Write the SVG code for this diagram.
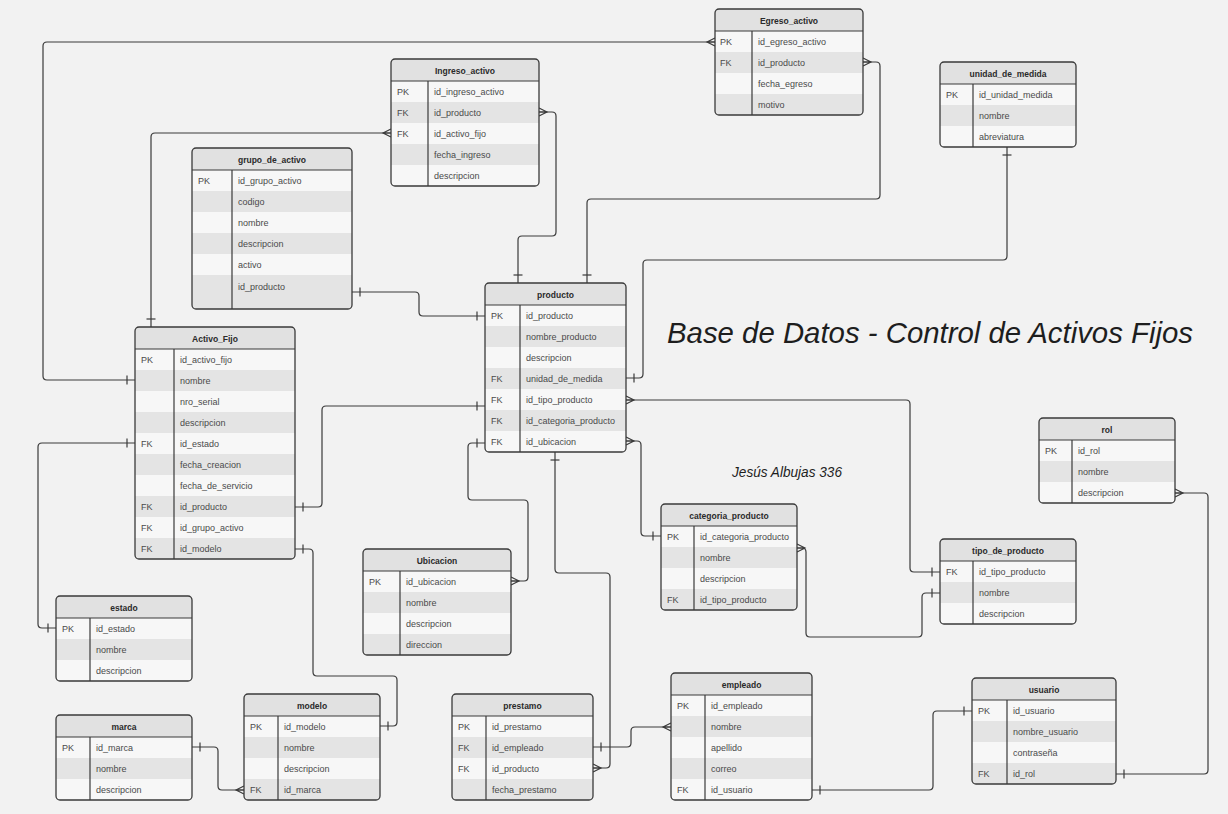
<svg xmlns="http://www.w3.org/2000/svg" width="1228" height="814" viewBox="0 0 1228 814">
<style>
.hd{fill:#e1e1e1}
.l{fill:#f7f7f7}
.g{fill:#e4e4e4}
.box{fill:none;stroke:#3a3a3a;stroke-width:1.3}
.ln{stroke:#3a3a3a;stroke-width:1.2}
.th{font-family:"Liberation Sans",Arial,sans-serif;font-size:8.5px;font-weight:bold;fill:#2a2a2a;text-anchor:middle}
.tx{font-family:"Liberation Sans",Arial,sans-serif;font-size:9px;fill:#4a4a4a}
.cn{fill:none;stroke:#3a3a3a;stroke-width:1.2}
.mk{fill:none;stroke:#3a3a3a;stroke-width:1.2}
.title{font-family:"Liberation Sans",Arial,sans-serif;font-style:italic;fill:#1e1e1e}
</style>
<defs>
<marker id="one" markerUnits="userSpaceOnUse" viewBox="-12 -8 16 16" markerWidth="16" markerHeight="16" refX="0" refY="0" orient="auto-start-reverse" overflow="visible"><path class="mk" d="M-8,-4.5V4.5"/></marker>
<marker id="many" markerUnits="userSpaceOnUse" viewBox="-12 -8 16 16" markerWidth="16" markerHeight="16" refX="0" refY="0" orient="auto-start-reverse" overflow="visible"><path class="mk" d="M0,-4L-8,0L0,4M-8,0H0"/></marker>
<clipPath id="c1"><rect x="715" y="9" width="148" height="106" rx="4"/></clipPath>
<clipPath id="c2"><rect x="391" y="59" width="148" height="127" rx="4"/></clipPath>
<clipPath id="c3"><rect x="940" y="62" width="136" height="85" rx="4"/></clipPath>
<clipPath id="c4"><rect x="192" y="148" width="160" height="161" rx="4"/></clipPath>
<clipPath id="c5"><rect x="135" y="327" width="160" height="232" rx="4"/></clipPath>
<clipPath id="c6"><rect x="485" y="283" width="141" height="169" rx="4"/></clipPath>
<clipPath id="c7"><rect x="1039" y="418" width="136" height="85" rx="4"/></clipPath>
<clipPath id="c8"><rect x="661" y="504" width="136" height="106" rx="4"/></clipPath>
<clipPath id="c9"><rect x="940" y="539" width="136" height="85" rx="4"/></clipPath>
<clipPath id="c10"><rect x="363" y="549" width="148" height="106" rx="4"/></clipPath>
<clipPath id="c11"><rect x="56" y="596" width="136" height="85" rx="4"/></clipPath>
<clipPath id="c12"><rect x="56" y="715" width="136" height="85" rx="4"/></clipPath>
<clipPath id="c13"><rect x="244" y="694" width="136" height="106" rx="4"/></clipPath>
<clipPath id="c14"><rect x="452" y="694" width="141" height="106" rx="4"/></clipPath>
<clipPath id="c15"><rect x="671" y="673" width="141" height="127" rx="4"/></clipPath>
<clipPath id="c16"><rect x="972" y="678" width="144" height="106" rx="4"/></clipPath>
</defs>
<rect x="0" y="0" width="1228" height="814" fill="#f2f2f2"/>

<g id="connectors">
<path class="cn" marker-start="url(#many)" marker-end="url(#one)" d="M715,42 H47 Q43,42 43,46 V376 Q43,380 47,380 H135"/>
<path class="cn" marker-start="url(#many)" marker-end="url(#one)" d="M863,62 H876 Q880,62 880,66 V195 Q880,199 876,199 H591 Q587,199 587,203 V283"/>
<path class="cn" marker-start="url(#many)" marker-end="url(#one)" d="M539,112 H552 Q556,112 556,116 V232 Q556,236 552,236 H522 Q518,236 518,240 V283"/>
<path class="cn" marker-start="url(#many)" marker-end="url(#one)" d="M391,133 H155 Q151,133 151,137 V327"/>
<path class="cn" marker-start="url(#one)" marker-end="url(#one)" d="M1007,147 V256 Q1007,260 1003,260 H647 Q643,260 643,264 V374 Q643,378 639,378 H626"/>
<path class="cn" marker-start="url(#one)" marker-end="url(#one)" d="M352,292 H415 Q419,292 419,296 V312 Q419,316 423,316 H485"/>
<path class="cn" marker-start="url(#one)" marker-end="url(#one)" d="M295,507 H318 Q322,507 322,503 V410 Q322,406 326,406 H485"/>
<path class="cn" marker-start="url(#one)" marker-end="url(#one)" d="M135,443 H42 Q38,443 38,447 V624 Q38,628 42,628 H56"/>
<path class="cn" marker-start="url(#one)" marker-end="url(#one)" d="M295,549 H309 Q313,549 313,553 V672 Q313,676 317,676 H393 Q397,676 397,680 V722 Q397,726 393,726 H380"/>
<path class="cn" marker-start="url(#many)" marker-end="url(#one)" d="M626,441 H637 Q641,441 641,445 V532 Q641,536 645,536 H661"/>
<path class="cn" marker-start="url(#one)" marker-end="url(#many)" d="M485,443 H472 Q468,443 468,447 V496 Q468,500 472,500 H524 Q528,500 528,504 V577 Q528,581 524,581 H511"/>
<path class="cn" marker-start="url(#many)" marker-end="url(#one)" d="M626,400 H906 Q910,400 910,404 V568 Q910,572 914,572 H940"/>
<path class="cn" marker-start="url(#many)" marker-end="url(#one)" d="M797,548 H802 Q806,548 806,552 V633 Q806,637 810,637 H918 Q922,637 922,633 V597 Q922,593 926,593 H940"/>
<path class="cn" marker-start="url(#one)" marker-end="url(#many)" d="M555,452 V569 Q555,573 559,573 H606 Q610,573 610,577 V764 Q610,768 606,768 H593"/>
<path class="cn" marker-start="url(#one)" marker-end="url(#many)" d="M593,747 H627 Q631,747 631,743 V731 Q631,727 635,727 H671"/>
<path class="cn" marker-start="url(#one)" marker-end="url(#one)" d="M812,790 H929 Q933,790 933,786 V715 Q933,711 937,711 H972"/>
<path class="cn" marker-start="url(#one)" marker-end="url(#many)" d="M1116,774 H1204 Q1208,774 1208,770 V497 Q1208,493 1204,493 H1175"/>
<path class="cn" marker-start="url(#one)" marker-end="url(#many)" d="M192,747 H214 Q218,747 218,751 V786 Q218,790 222,790 H244"/>
</g>

<g id="egreso_activo">
<g clip-path="url(#c1)"><rect class="hd" x="715" y="9" width="148" height="22"/><rect class="l" x="715" y="31" width="148" height="21"/><rect class="g" x="715" y="52" width="148" height="21"/><rect class="l" x="715" y="73" width="148" height="21"/><rect class="g" x="715" y="94" width="148" height="21"/></g>
<line class="ln" x1="715" y1="31" x2="863" y2="31"/><line class="ln" x1="752" y1="31" x2="752" y2="115"/>
<rect class="box" x="715" y="9" width="148" height="106" rx="4"/>
<text class="th" x="789" y="23.5">Egreso_activo</text>
<text class="tx" x="720" y="45">PK</text><text class="tx" x="758" y="45">id_egreso_activo</text>
<text class="tx" x="720" y="66">FK</text><text class="tx" x="758" y="66">id_producto</text>
<text class="tx" x="758" y="87">fecha_egreso</text>
<text class="tx" x="758" y="108">motivo</text>
</g>

<g id="ingreso_activo">
<g clip-path="url(#c2)"><rect class="hd" x="391" y="59" width="148" height="22"/><rect class="l" x="391" y="81" width="148" height="21"/><rect class="g" x="391" y="102" width="148" height="21"/><rect class="l" x="391" y="123" width="148" height="21"/><rect class="g" x="391" y="144" width="148" height="21"/><rect class="l" x="391" y="165" width="148" height="21"/></g>
<line class="ln" x1="391" y1="81" x2="539" y2="81"/><line class="ln" x1="428" y1="81" x2="428" y2="186"/>
<rect class="box" x="391" y="59" width="148" height="127" rx="4"/>
<text class="th" x="465" y="73.5">Ingreso_activo</text>
<text class="tx" x="397" y="95">PK</text><text class="tx" x="434" y="95">id_ingreso_activo</text>
<text class="tx" x="397" y="116">FK</text><text class="tx" x="434" y="116">id_producto</text>
<text class="tx" x="397" y="137">FK</text><text class="tx" x="434" y="137">id_activo_fijo</text>
<text class="tx" x="434" y="158">fecha_ingreso</text>
<text class="tx" x="434" y="179">descripcion</text>
</g>

<g id="unidad_de_medida">
<g clip-path="url(#c3)"><rect class="hd" x="940" y="62" width="136" height="22"/><rect class="l" x="940" y="84" width="136" height="21"/><rect class="g" x="940" y="105" width="136" height="21"/><rect class="l" x="940" y="126" width="136" height="21"/></g>
<line class="ln" x1="940" y1="84" x2="1076" y2="84"/><line class="ln" x1="973" y1="84" x2="973" y2="147"/>
<rect class="box" x="940" y="62" width="136" height="85" rx="4"/>
<text class="th" x="1008" y="76.5">unidad_de_medida</text>
<text class="tx" x="946" y="98">PK</text><text class="tx" x="979" y="98">id_unidad_medida</text>
<text class="tx" x="979" y="119">nombre</text>
<text class="tx" x="979" y="140">abreviatura</text>
</g>

<g id="grupo_de_activo">
<g clip-path="url(#c4)"><rect class="hd" x="192" y="148" width="160" height="22"/><rect class="l" x="192" y="170" width="160" height="21"/><rect class="g" x="192" y="191" width="160" height="21"/><rect class="l" x="192" y="212" width="160" height="21"/><rect class="g" x="192" y="233" width="160" height="21"/><rect class="l" x="192" y="254" width="160" height="21"/><rect class="g" x="192" y="275" width="160" height="34"/></g>
<line class="ln" x1="192" y1="170" x2="352" y2="170"/><line class="ln" x1="232" y1="170" x2="232" y2="309"/>
<rect class="box" x="192" y="148" width="160" height="161" rx="4"/>
<text class="th" x="272" y="162.5">grupo_de_activo</text>
<text class="tx" x="198" y="184">PK</text><text class="tx" x="238" y="184">id_grupo_activo</text>
<text class="tx" x="238" y="205">codigo</text>
<text class="tx" x="238" y="226">nombre</text>
<text class="tx" x="238" y="247">descripcion</text>
<text class="tx" x="238" y="268">activo</text>
<text class="tx" x="238" y="290">id_producto</text>
</g>

<g id="activo_fijo">
<g clip-path="url(#c5)"><rect class="hd" x="135" y="327" width="160" height="22"/><rect class="l" x="135" y="349" width="160" height="21"/><rect class="g" x="135" y="370" width="160" height="21"/><rect class="l" x="135" y="391" width="160" height="21"/><rect class="g" x="135" y="412" width="160" height="21"/><rect class="l" x="135" y="433" width="160" height="21"/><rect class="g" x="135" y="454" width="160" height="21"/><rect class="l" x="135" y="475" width="160" height="21"/><rect class="g" x="135" y="496" width="160" height="21"/><rect class="l" x="135" y="517" width="160" height="21"/><rect class="g" x="135" y="538" width="160" height="21"/></g>
<line class="ln" x1="135" y1="349" x2="295" y2="349"/><line class="ln" x1="174" y1="349" x2="174" y2="559"/>
<rect class="box" x="135" y="327" width="160" height="232" rx="4"/>
<text class="th" x="215" y="341.5">Activo_Fijo</text>
<text class="tx" x="141" y="363">PK</text><text class="tx" x="180" y="363">id_activo_fijo</text>
<text class="tx" x="180" y="384">nombre</text>
<text class="tx" x="180" y="405">nro_serial</text>
<text class="tx" x="180" y="426">descripcion</text>
<text class="tx" x="141" y="447">FK</text><text class="tx" x="180" y="447">id_estado</text>
<text class="tx" x="180" y="468">fecha_creacion</text>
<text class="tx" x="180" y="489">fecha_de_servicio</text>
<text class="tx" x="141" y="510">FK</text><text class="tx" x="180" y="510">id_producto</text>
<text class="tx" x="141" y="531">FK</text><text class="tx" x="180" y="531">id_grupo_activo</text>
<text class="tx" x="141" y="552">FK</text><text class="tx" x="180" y="552">id_modelo</text>
</g>

<g id="producto">
<g clip-path="url(#c6)"><rect class="hd" x="485" y="283" width="141" height="22"/><rect class="l" x="485" y="305" width="141" height="21"/><rect class="g" x="485" y="326" width="141" height="21"/><rect class="l" x="485" y="347" width="141" height="21"/><rect class="g" x="485" y="368" width="141" height="21"/><rect class="l" x="485" y="389" width="141" height="21"/><rect class="g" x="485" y="410" width="141" height="21"/><rect class="l" x="485" y="431" width="141" height="21"/></g>
<line class="ln" x1="485" y1="305" x2="626" y2="305"/><line class="ln" x1="520" y1="305" x2="520" y2="452"/>
<rect class="box" x="485" y="283" width="141" height="169" rx="4"/>
<text class="th" x="555.5" y="297.5">producto</text>
<text class="tx" x="491" y="319">PK</text><text class="tx" x="526" y="319">id_producto</text>
<text class="tx" x="526" y="340">nombre_producto</text>
<text class="tx" x="526" y="361">descripcion</text>
<text class="tx" x="491" y="382">FK</text><text class="tx" x="526" y="382">unidad_de_medida</text>
<text class="tx" x="491" y="403">FK</text><text class="tx" x="526" y="403">id_tipo_producto</text>
<text class="tx" x="491" y="424">FK</text><text class="tx" x="526" y="424">id_categoria_producto</text>
<text class="tx" x="491" y="445">FK</text><text class="tx" x="526" y="445">id_ubicacion</text>
</g>

<g id="rol">
<g clip-path="url(#c7)"><rect class="hd" x="1039" y="418" width="136" height="22"/><rect class="l" x="1039" y="440" width="136" height="21"/><rect class="g" x="1039" y="461" width="136" height="21"/><rect class="l" x="1039" y="482" width="136" height="21"/></g>
<line class="ln" x1="1039" y1="440" x2="1175" y2="440"/><line class="ln" x1="1072" y1="440" x2="1072" y2="503"/>
<rect class="box" x="1039" y="418" width="136" height="85" rx="4"/>
<text class="th" x="1107" y="432.5">rol</text>
<text class="tx" x="1045" y="454">PK</text><text class="tx" x="1078" y="454">id_rol</text>
<text class="tx" x="1078" y="475">nombre</text>
<text class="tx" x="1078" y="496">descripcion</text>
</g>

<g id="categoria_producto">
<g clip-path="url(#c8)"><rect class="hd" x="661" y="504" width="136" height="22"/><rect class="l" x="661" y="526" width="136" height="21"/><rect class="g" x="661" y="547" width="136" height="21"/><rect class="l" x="661" y="568" width="136" height="21"/><rect class="g" x="661" y="589" width="136" height="21"/></g>
<line class="ln" x1="661" y1="526" x2="797" y2="526"/><line class="ln" x1="694" y1="526" x2="694" y2="610"/>
<rect class="box" x="661" y="504" width="136" height="106" rx="4"/>
<text class="th" x="729" y="518.5">categoria_producto</text>
<text class="tx" x="667" y="540">PK</text><text class="tx" x="700" y="540">id_categoria_producto</text>
<text class="tx" x="700" y="561">nombre</text>
<text class="tx" x="700" y="582">descripcion</text>
<text class="tx" x="667" y="603">FK</text><text class="tx" x="700" y="603">id_tipo_producto</text>
</g>

<g id="tipo_de_producto">
<g clip-path="url(#c9)"><rect class="hd" x="940" y="539" width="136" height="22"/><rect class="l" x="940" y="561" width="136" height="21"/><rect class="g" x="940" y="582" width="136" height="21"/><rect class="l" x="940" y="603" width="136" height="21"/></g>
<line class="ln" x1="940" y1="561" x2="1076" y2="561"/><line class="ln" x1="973" y1="561" x2="973" y2="624"/>
<rect class="box" x="940" y="539" width="136" height="85" rx="4"/>
<text class="th" x="1008" y="553.5">tipo_de_producto</text>
<text class="tx" x="946" y="575">FK</text><text class="tx" x="979" y="575">id_tipo_producto</text>
<text class="tx" x="979" y="596">nombre</text>
<text class="tx" x="979" y="617">descripcion</text>
</g>

<g id="ubicacion">
<g clip-path="url(#c10)"><rect class="hd" x="363" y="549" width="148" height="22"/><rect class="l" x="363" y="571" width="148" height="21"/><rect class="g" x="363" y="592" width="148" height="21"/><rect class="l" x="363" y="613" width="148" height="21"/><rect class="g" x="363" y="634" width="148" height="21"/></g>
<line class="ln" x1="363" y1="571" x2="511" y2="571"/><line class="ln" x1="400" y1="571" x2="400" y2="655"/>
<rect class="box" x="363" y="549" width="148" height="106" rx="4"/>
<text class="th" x="437" y="563.5">Ubicacion</text>
<text class="tx" x="369" y="585">PK</text><text class="tx" x="406" y="585">id_ubicacion</text>
<text class="tx" x="406" y="606">nombre</text>
<text class="tx" x="406" y="627">descripcion</text>
<text class="tx" x="406" y="648">direccion</text>
</g>

<g id="estado">
<g clip-path="url(#c11)"><rect class="hd" x="56" y="596" width="136" height="22"/><rect class="l" x="56" y="618" width="136" height="21"/><rect class="g" x="56" y="639" width="136" height="21"/><rect class="l" x="56" y="660" width="136" height="21"/></g>
<line class="ln" x1="56" y1="618" x2="192" y2="618"/><line class="ln" x1="90" y1="618" x2="90" y2="681"/>
<rect class="box" x="56" y="596" width="136" height="85" rx="4"/>
<text class="th" x="124" y="610.5">estado</text>
<text class="tx" x="62" y="632">PK</text><text class="tx" x="96" y="632">id_estado</text>
<text class="tx" x="96" y="653">nombre</text>
<text class="tx" x="96" y="674">descripcion</text>
</g>

<g id="marca">
<g clip-path="url(#c12)"><rect class="hd" x="56" y="715" width="136" height="22"/><rect class="l" x="56" y="737" width="136" height="21"/><rect class="g" x="56" y="758" width="136" height="21"/><rect class="l" x="56" y="779" width="136" height="21"/></g>
<line class="ln" x1="56" y1="737" x2="192" y2="737"/><line class="ln" x1="90" y1="737" x2="90" y2="800"/>
<rect class="box" x="56" y="715" width="136" height="85" rx="4"/>
<text class="th" x="124" y="729.5">marca</text>
<text class="tx" x="62" y="751">PK</text><text class="tx" x="96" y="751">id_marca</text>
<text class="tx" x="96" y="772">nombre</text>
<text class="tx" x="96" y="793">descripcion</text>
</g>

<g id="modelo">
<g clip-path="url(#c13)"><rect class="hd" x="244" y="694" width="136" height="22"/><rect class="l" x="244" y="716" width="136" height="21"/><rect class="g" x="244" y="737" width="136" height="21"/><rect class="l" x="244" y="758" width="136" height="21"/><rect class="g" x="244" y="779" width="136" height="21"/></g>
<line class="ln" x1="244" y1="716" x2="380" y2="716"/><line class="ln" x1="278" y1="716" x2="278" y2="800"/>
<rect class="box" x="244" y="694" width="136" height="106" rx="4"/>
<text class="th" x="312" y="708.5">modelo</text>
<text class="tx" x="250" y="730">PK</text><text class="tx" x="284" y="730">id_modelo</text>
<text class="tx" x="284" y="751">nombre</text>
<text class="tx" x="284" y="772">descripcion</text>
<text class="tx" x="250" y="793">FK</text><text class="tx" x="284" y="793">id_marca</text>
</g>

<g id="prestamo">
<g clip-path="url(#c14)"><rect class="hd" x="452" y="694" width="141" height="22"/><rect class="l" x="452" y="716" width="141" height="21"/><rect class="g" x="452" y="737" width="141" height="21"/><rect class="l" x="452" y="758" width="141" height="21"/><rect class="g" x="452" y="779" width="141" height="21"/></g>
<line class="ln" x1="452" y1="716" x2="593" y2="716"/><line class="ln" x1="486" y1="716" x2="486" y2="800"/>
<rect class="box" x="452" y="694" width="141" height="106" rx="4"/>
<text class="th" x="522.5" y="708.5">prestamo</text>
<text class="tx" x="458" y="730">PK</text><text class="tx" x="492" y="730">id_prestamo</text>
<text class="tx" x="458" y="751">FK</text><text class="tx" x="492" y="751">id_empleado</text>
<text class="tx" x="458" y="772">FK</text><text class="tx" x="492" y="772">id_producto</text>
<text class="tx" x="492" y="793">fecha_prestamo</text>
</g>

<g id="empleado">
<g clip-path="url(#c15)"><rect class="hd" x="671" y="673" width="141" height="22"/><rect class="l" x="671" y="695" width="141" height="21"/><rect class="g" x="671" y="716" width="141" height="21"/><rect class="l" x="671" y="737" width="141" height="21"/><rect class="g" x="671" y="758" width="141" height="21"/><rect class="l" x="671" y="779" width="141" height="21"/></g>
<line class="ln" x1="671" y1="695" x2="812" y2="695"/><line class="ln" x1="705" y1="695" x2="705" y2="800"/>
<rect class="box" x="671" y="673" width="141" height="127" rx="4"/>
<text class="th" x="741.5" y="687.5">empleado</text>
<text class="tx" x="677" y="709">PK</text><text class="tx" x="711" y="709">id_empleado</text>
<text class="tx" x="711" y="730">nombre</text>
<text class="tx" x="711" y="751">apellido</text>
<text class="tx" x="711" y="772">correo</text>
<text class="tx" x="677" y="793">FK</text><text class="tx" x="711" y="793">id_usuario</text>
</g>

<g id="usuario">
<g clip-path="url(#c16)"><rect class="hd" x="972" y="678" width="144" height="22"/><rect class="l" x="972" y="700" width="144" height="21"/><rect class="g" x="972" y="721" width="144" height="21"/><rect class="l" x="972" y="742" width="144" height="21"/><rect class="g" x="972" y="763" width="144" height="21"/></g>
<line class="ln" x1="972" y1="700" x2="1116" y2="700"/><line class="ln" x1="1007" y1="700" x2="1007" y2="784"/>
<rect class="box" x="972" y="678" width="144" height="106" rx="4"/>
<text class="th" x="1044" y="692.5">usuario</text>
<text class="tx" x="978" y="714">PK</text><text class="tx" x="1013" y="714">id_usuario</text>
<text class="tx" x="1013" y="735">nombre_usuario</text>
<text class="tx" x="1013" y="756">contraseña</text>
<text class="tx" x="978" y="777">FK</text><text class="tx" x="1013" y="777">id_rol</text>
</g>

<g id="titles">
<text class="title" x="667" y="343" font-size="30" textLength="526" lengthAdjust="spacingAndGlyphs">Base de Datos - Control de Activos Fijos</text>
<text class="title" x="732" y="477" font-size="15" textLength="110" lengthAdjust="spacingAndGlyphs">Jesús Albujas 336</text>
</g>
</svg>
